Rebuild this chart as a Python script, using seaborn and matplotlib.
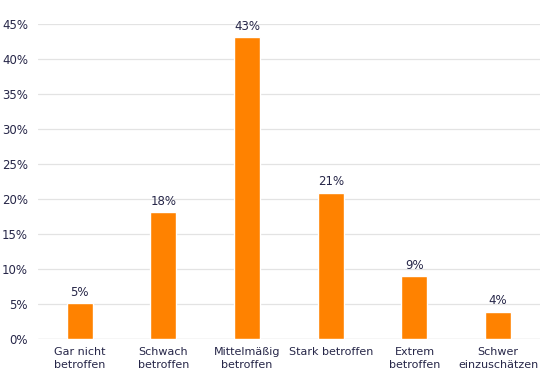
import matplotlib
matplotlib.use("Agg")
import matplotlib.pyplot as plt
import seaborn as sns
import pandas as pd
from matplotlib.ticker import PercentFormatter

categories = ["Gar nicht\nbetroffen", "Schwach\nbetroffen", "Mittelmäßig\nbetroffen",
              "Stark betroffen", "Extrem\nbetroffen", "Schwer\neinzuschätzen"]
shares = [5.1, 18.1, 43.1, 20.9, 9.0, 3.9]
labels = ["5%", "18%", "43%", "21%", "9%", "4%"]

text_color = "#262648"
bar_color = "#ff8200"

sns.set_theme(style="white")
plt.rcParams['font.family'] = ['DejaVu Sans']

df = pd.DataFrame({'category': categories, 'share': shares})

fig = plt.figure(figsize=(5.4, 3.74), dpi=100)
ax = fig.add_axes([0.07, 0.094, 0.93, 0.842])
sns.barplot(data=df, x='category', y='share', color=bar_color, width=0.31,
            saturation=1, ax=ax, zorder=3)

ax.bar_label(ax.containers[0], labels=labels, padding=3, fontsize=8.5, color=text_color)

ax.set_ylim(0, 45)
ax.set_yticks(range(0, 50, 5))
ax.yaxis.set_major_formatter(PercentFormatter(decimals=0))
ax.grid(True, axis='y', color='#e3e3e3', linewidth=0.9, zorder=0)
ax.set_xlabel('')
ax.set_ylabel('')
ax.spines[['top', 'right', 'left', 'bottom']].set_visible(False)
ax.axhline(0, color='#d9d9d9', linewidth=0.9, zorder=2)
ax.tick_params(axis='y', length=0, labelsize=8.5, colors=text_color, pad=7)
ax.tick_params(axis='x', length=0, labelsize=8, colors=text_color, pad=6)
for t in ax.get_xticklabels():
    t.set_linespacing(1.4)

plt.savefig('out.png', dpi=100)
